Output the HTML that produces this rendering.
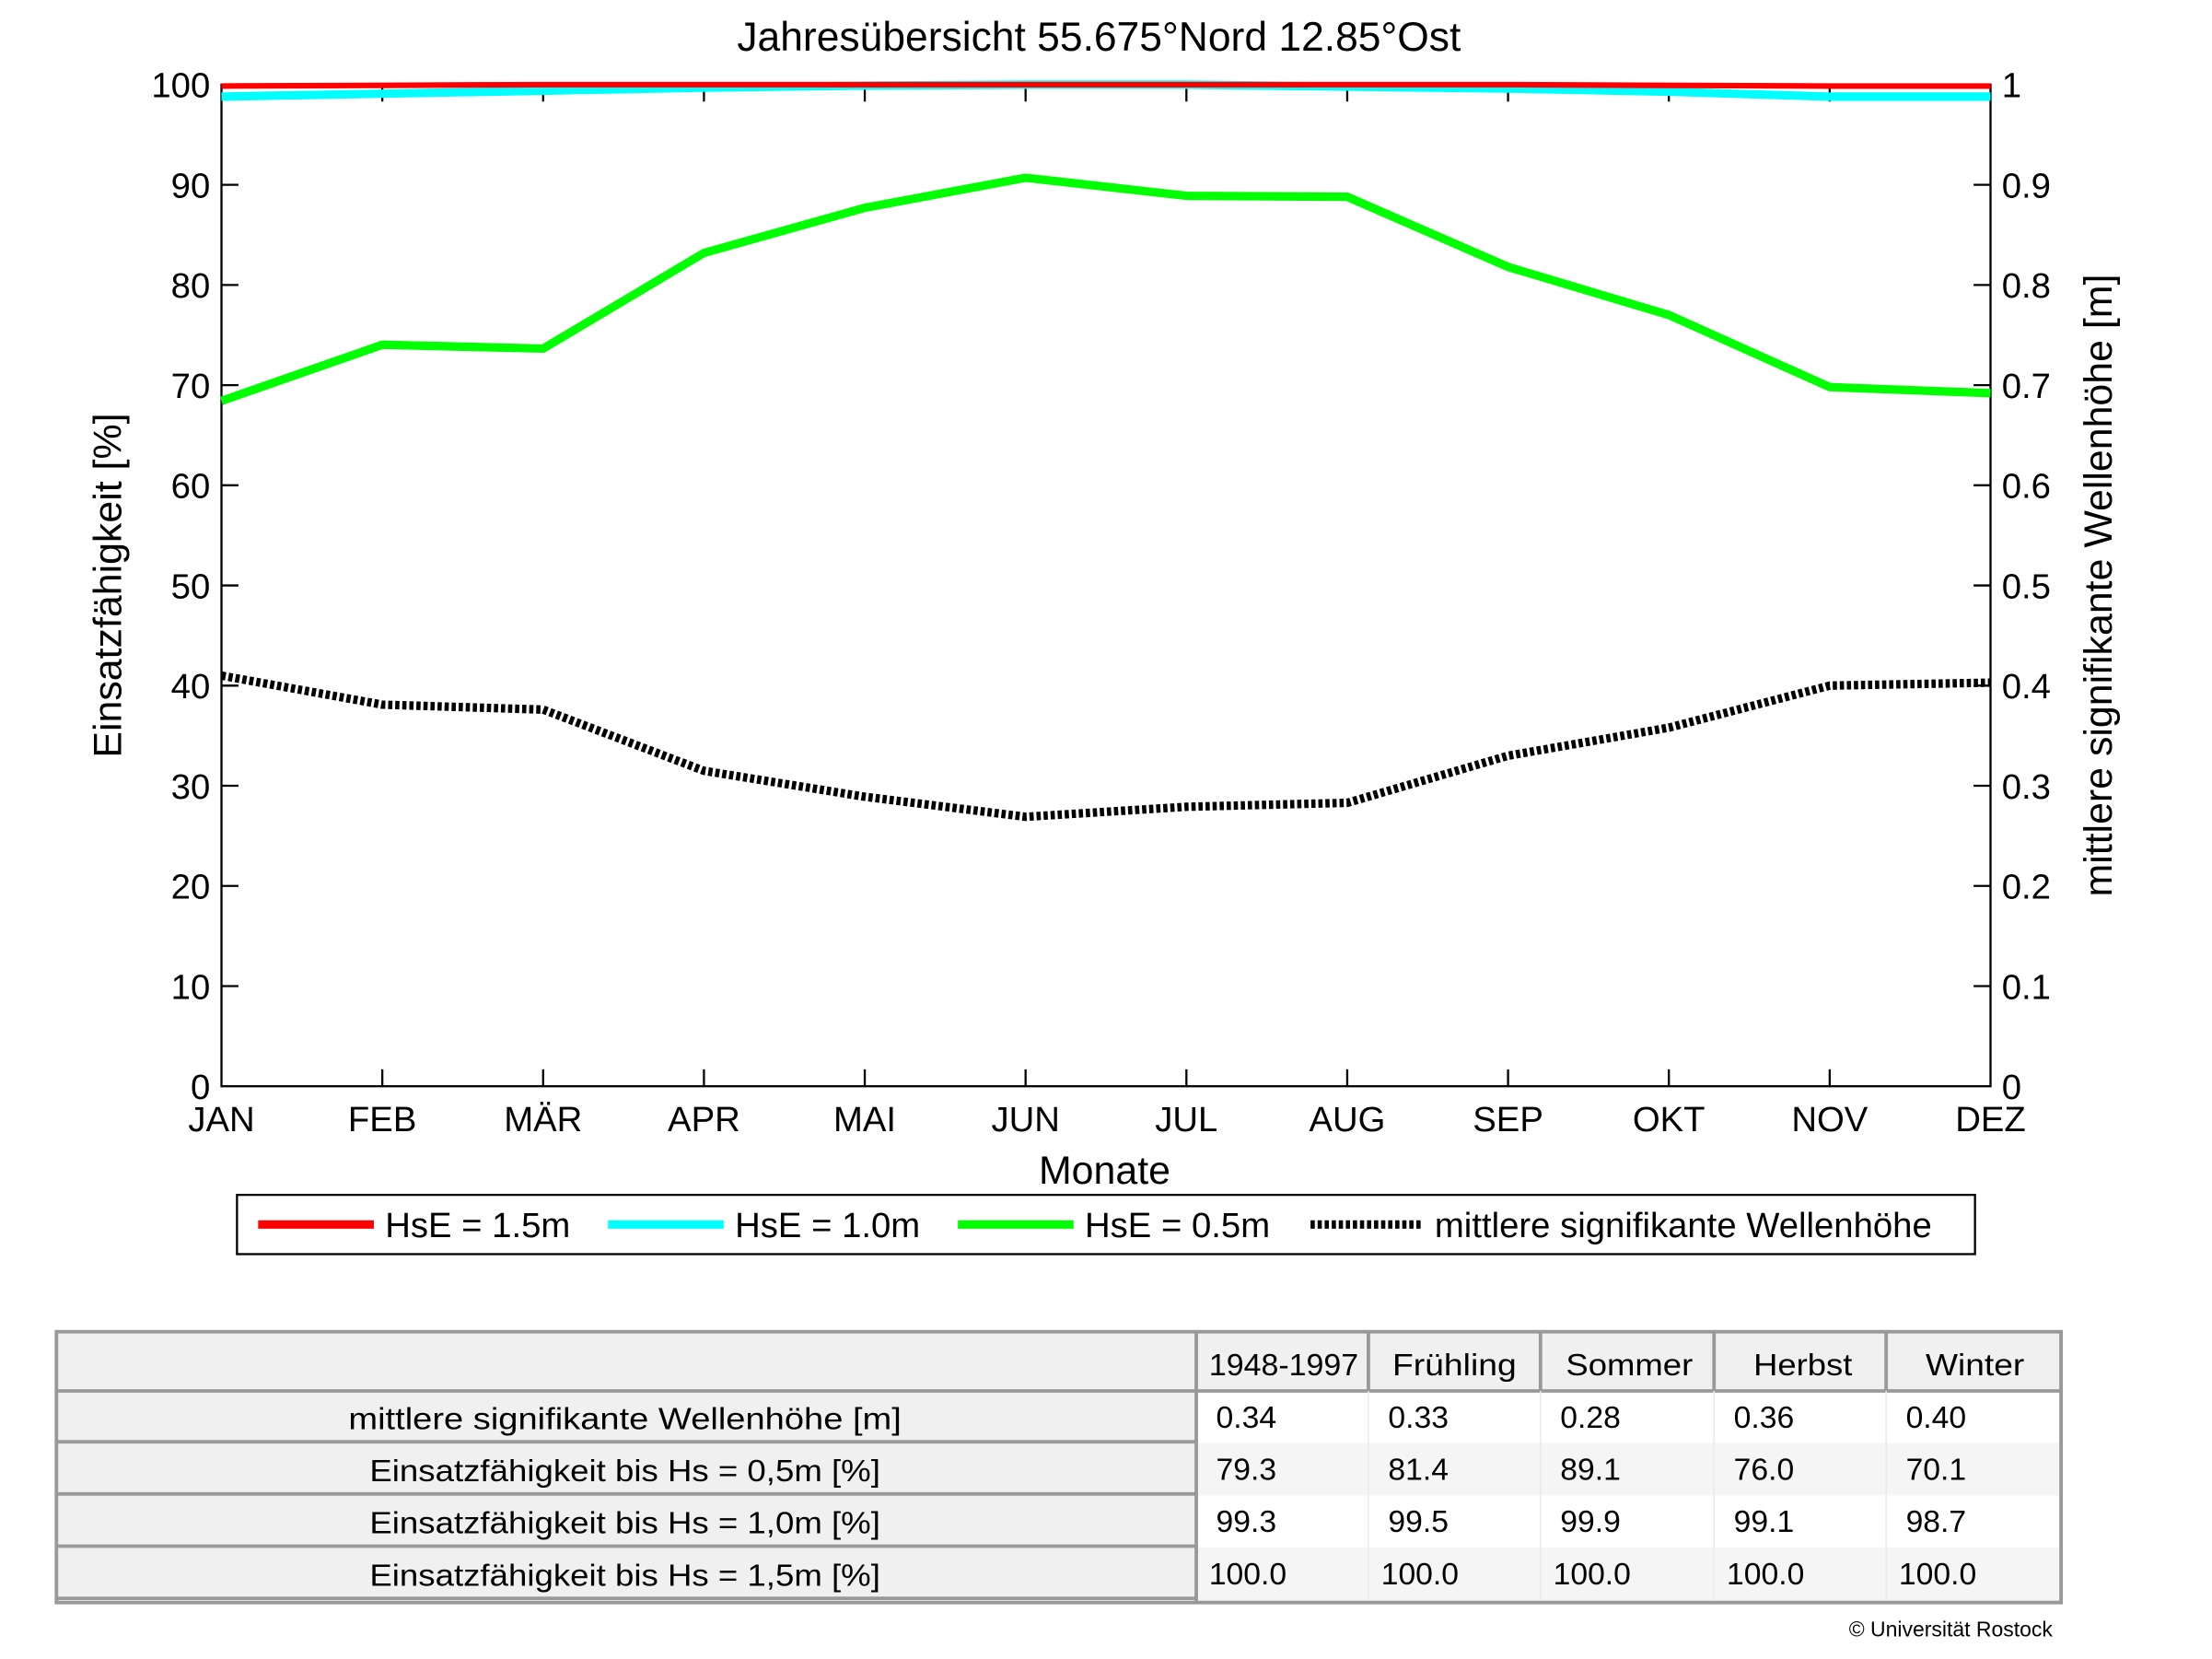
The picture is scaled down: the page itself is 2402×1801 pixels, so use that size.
<!DOCTYPE html>
<html><head><meta charset="utf-8"><style>
html,body{margin:0;padding:0;background:#fff;}
svg{display:block;}
text{font-family:"Liberation Sans",sans-serif;fill:#000;}
.t{font-size:22px;}
</style></head><body>
<svg width="2402" height="1801" viewBox="0 0 1568 1176" preserveAspectRatio="none" xmlns="http://www.w3.org/2000/svg">
<rect width="1600" height="1200" fill="#fff"/>
<text x="779" y="36" font-size="29" text-anchor="middle">Jahresübersicht  55.675°Nord  12.85°Ost</text>
<rect x="157" y="60" width="1254" height="710" fill="none" stroke="#000" stroke-width="1.5"/>
<g stroke="#000" stroke-width="1.5">
<line x1="157" y1="131" x2="169" y2="131"/><line x1="157" y1="202" x2="169" y2="202"/><line x1="157" y1="273" x2="169" y2="273"/><line x1="157" y1="344" x2="169" y2="344"/><line x1="157" y1="415" x2="169" y2="415"/><line x1="157" y1="486" x2="169" y2="486"/><line x1="157" y1="557" x2="169" y2="557"/><line x1="157" y1="628" x2="169" y2="628"/><line x1="157" y1="699" x2="169" y2="699"/>
<line x1="1399" y1="131" x2="1411" y2="131"/><line x1="1399" y1="202" x2="1411" y2="202"/><line x1="1399" y1="273" x2="1411" y2="273"/><line x1="1399" y1="344" x2="1411" y2="344"/><line x1="1399" y1="415" x2="1411" y2="415"/><line x1="1399" y1="486" x2="1411" y2="486"/><line x1="1399" y1="557" x2="1411" y2="557"/><line x1="1399" y1="628" x2="1411" y2="628"/><line x1="1399" y1="699" x2="1411" y2="699"/>
<line x1="271" y1="770" x2="271" y2="758"/><line x1="385" y1="770" x2="385" y2="758"/><line x1="499" y1="770" x2="499" y2="758"/><line x1="613" y1="770" x2="613" y2="758"/><line x1="727" y1="770" x2="727" y2="758"/><line x1="841" y1="770" x2="841" y2="758"/><line x1="955" y1="770" x2="955" y2="758"/><line x1="1069" y1="770" x2="1069" y2="758"/><line x1="1183" y1="770" x2="1183" y2="758"/><line x1="1297" y1="770" x2="1297" y2="758"/>
<line x1="271" y1="60" x2="271" y2="72"/><line x1="385" y1="60" x2="385" y2="72"/><line x1="499" y1="60" x2="499" y2="72"/><line x1="613" y1="60" x2="613" y2="72"/><line x1="727" y1="60" x2="727" y2="72"/><line x1="841" y1="60" x2="841" y2="72"/><line x1="955" y1="60" x2="955" y2="72"/><line x1="1069" y1="60" x2="1069" y2="72"/><line x1="1183" y1="60" x2="1183" y2="72"/><line x1="1297" y1="60" x2="1297" y2="72"/>
</g>
<g font-size="25" text-anchor="end">
<text x="149" y="69">100</text><text x="149" y="140">90</text><text x="149" y="211">80</text><text x="149" y="282">70</text><text x="149" y="353">60</text><text x="149" y="424">50</text><text x="149" y="495">40</text><text x="149" y="566">30</text><text x="149" y="637">20</text><text x="149" y="708">10</text><text x="149" y="779">0</text>
</g>
<g font-size="25">
<text x="1419" y="69">1</text><text x="1419" y="140">0.9</text><text x="1419" y="211">0.8</text><text x="1419" y="282">0.7</text><text x="1419" y="353">0.6</text><text x="1419" y="424">0.5</text><text x="1419" y="495">0.4</text><text x="1419" y="566">0.3</text><text x="1419" y="637">0.2</text><text x="1419" y="708">0.1</text><text x="1419" y="779">0</text>
</g>
<g font-size="25" text-anchor="middle">
<text x="157" y="802">JAN</text><text x="271" y="802">FEB</text><text x="385" y="802">MÄR</text><text x="499" y="802">APR</text><text x="613" y="802">MAI</text><text x="727" y="802">JUN</text><text x="841" y="802">JUL</text><text x="955" y="802">AUG</text><text x="1069" y="802">SEP</text><text x="1183" y="802">OKT</text><text x="1297" y="802">NOV</text><text x="1411" y="802">DEZ</text>
</g>
<text x="783" y="839" font-size="28" text-anchor="middle">Monate</text>
<text transform="translate(86,415) rotate(-90)" font-size="28" text-anchor="middle">Einsatzfähigkeit [%]</text>
<text transform="translate(1497,415) rotate(-90)" font-size="28" text-anchor="middle">mittlere signifikante Wellenhöhe [m]</text>
<polyline fill="none" stroke="#00ffff" stroke-width="6" points="157,68.5 271,66.4 385,64.3 499,62.1 613,60.7 727,60 841,60 955,61.4 1069,62.8 1183,65 1297,68.5 1411,68.5"/>
<polyline fill="none" stroke="#ff0000" stroke-width="4" points="157,61 271,60.5 385,60 499,60 613,60 727,60 841,60 955,60 1069,60 1183,60.5 1297,61 1411,61"/>
<polyline fill="none" stroke="#00ff00" stroke-width="6" points="157,284.2 271,244.4 385,247.1 499,179.3 613,147.3 727,126 841,138.8 955,139.5 1069,189.2 1183,223.3 1297,274.4 1411,278.7"/>
<polyline fill="none" stroke="#000" stroke-width="6" stroke-dasharray="3,2" points="157,478.9 271,499.5 385,503 499,546.4 613,564.8 727,579 841,571.9 955,569.1 1069,535.7 1183,515.8 1297,486 1411,483.9"/>
<rect x="168" y="847" width="1232" height="42" fill="#fff" stroke="#000" stroke-width="1.5"/>
<line x1="183" y1="868" x2="265" y2="868" stroke="#ff0000" stroke-width="6"/>
<text x="273" y="877" font-size="25">HsE = 1.5m</text>
<line x1="431" y1="868" x2="513" y2="868" stroke="#00ffff" stroke-width="6"/>
<text x="521" y="877" font-size="25">HsE = 1.0m</text>
<line x1="679" y1="868" x2="761" y2="868" stroke="#00ff00" stroke-width="6"/>
<text x="769" y="877" font-size="25">HsE = 0.5m</text>
<line x1="929" y1="868" x2="1009" y2="868" stroke="#000" stroke-width="6" stroke-dasharray="3,2"/>
<text x="1017" y="877" font-size="25">mittlere signifikante Wellenhöhe</text>
<rect x="40" y="944" width="1421" height="192" fill="#f0f0f0"/>
<rect x="848" y="986" width="613" height="37" fill="#fff"/>
<rect x="848" y="1023" width="613" height="37" fill="#f5f5f5"/>
<rect x="848" y="1060" width="613" height="37" fill="#fff"/>
<rect x="848" y="1097" width="613" height="37" fill="#f5f5f5"/>
<g stroke="#999" stroke-width="2.5" fill="none">
<rect x="40" y="944" width="1421" height="192"/>
<line x1="40" y1="986" x2="1461" y2="986"/>
<line x1="40" y1="1022" x2="848" y2="1022"/>
<line x1="40" y1="1059" x2="848" y2="1059"/>
<line x1="40" y1="1096" x2="848" y2="1096"/>
<line x1="40" y1="1133" x2="848" y2="1133"/>
<line x1="848" y1="944" x2="848" y2="1136"/>
<line x1="970" y1="944" x2="970" y2="986"/><line x1="1092" y1="944" x2="1092" y2="986"/><line x1="1215" y1="944" x2="1215" y2="986"/><line x1="1337" y1="944" x2="1337" y2="986"/>
</g>
<g stroke="#eaeaea" stroke-width="1">
<line x1="970" y1="986" x2="970" y2="1134"/><line x1="1092" y1="986" x2="1092" y2="1134"/><line x1="1215" y1="986" x2="1215" y2="1134"/><line x1="1337" y1="986" x2="1337" y2="1134"/>
</g>
<g class="t" text-anchor="middle">
<text x="443" y="1013" textLength="392" lengthAdjust="spacingAndGlyphs">mittlere signifikante Wellenhöhe [m]</text>
<text x="443" y="1050" textLength="362" lengthAdjust="spacingAndGlyphs">Einsatzfähigkeit bis Hs = 0,5m [%]</text>
<text x="443" y="1087" textLength="362" lengthAdjust="spacingAndGlyphs">Einsatzfähigkeit bis Hs = 1,0m [%]</text>
<text x="443" y="1124" textLength="362" lengthAdjust="spacingAndGlyphs">Einsatzfähigkeit bis Hs = 1,5m [%]</text>
<text x="910" y="975" textLength="106" lengthAdjust="spacingAndGlyphs">1948-1997</text>
<text x="1031" y="975" textLength="88" lengthAdjust="spacingAndGlyphs">Frühling</text>
<text x="1155" y="975" textLength="90" lengthAdjust="spacingAndGlyphs">Sommer</text>
<text x="1278" y="975" textLength="70" lengthAdjust="spacingAndGlyphs">Herbst</text>
<text x="1400" y="975" textLength="70" lengthAdjust="spacingAndGlyphs">Winter</text>
</g>
<g class="t">
<text x="862" y="1012">0.34</text><text x="984" y="1012">0.33</text><text x="1106" y="1012">0.28</text><text x="1229" y="1012">0.36</text><text x="1351" y="1012">0.40</text>
<text x="862" y="1049">79.3</text><text x="984" y="1049">81.4</text><text x="1106" y="1049">89.1</text><text x="1229" y="1049">76.0</text><text x="1351" y="1049">70.1</text>
<text x="862" y="1086">99.3</text><text x="984" y="1086">99.5</text><text x="1106" y="1086">99.9</text><text x="1229" y="1086">99.1</text><text x="1351" y="1086">98.7</text>
<text x="857" y="1123">100.0</text><text x="979" y="1123">100.0</text><text x="1101" y="1123">100.0</text><text x="1224" y="1123">100.0</text><text x="1346" y="1123">100.0</text>
</g>
<text x="1455" y="1160" font-size="15" text-anchor="end">© Universität Rostock</text>
</svg>
</body></html>
